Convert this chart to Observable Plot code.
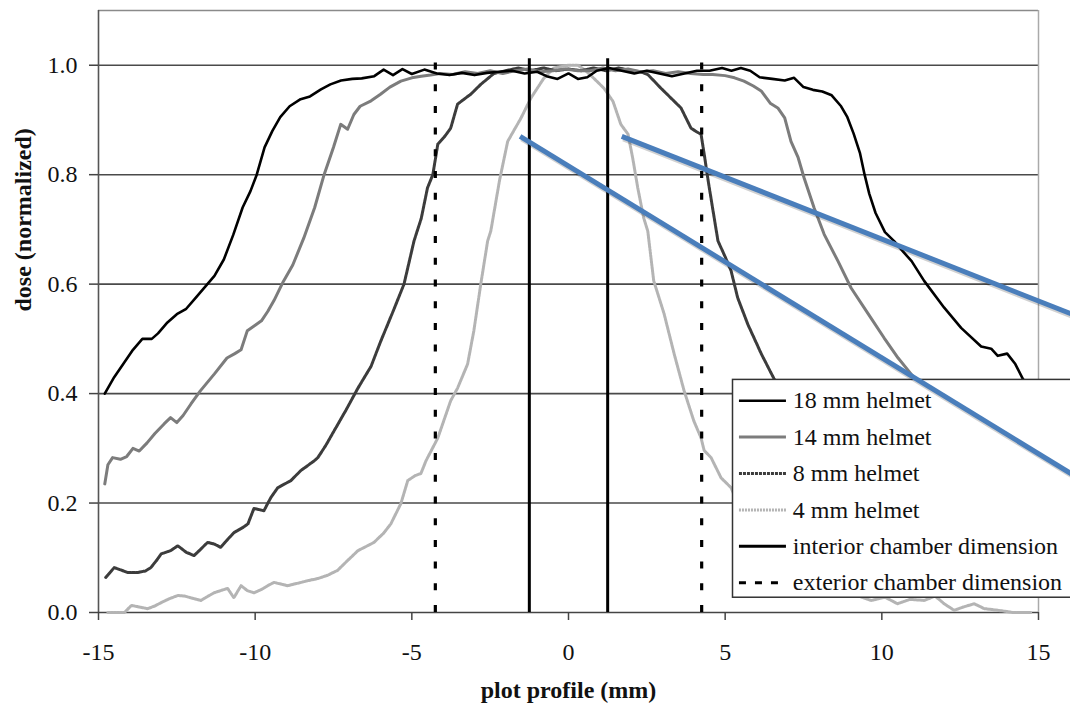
<!DOCTYPE html>
<html><head><meta charset="utf-8">
<script src="https://cdn.jsdelivr.net/npm/d3@7"></script>
<script src="https://cdn.jsdelivr.net/npm/@observablehq/plot@0.6"></script>
<style>html,body{margin:0;padding:0;background:#fff;overflow:hidden}
svg text{font-family:"Liberation Serif","Times New Roman",serif !important;}</style>
</head><body><div id="chart"></div>
<script>
// ---- data ----
const xTicks = [-15, -10, -5, 0, 5, 10, 15];
const yTicks = [0, 0.2, 0.4, 0.6, 0.8, 1.0];
const gridValues = [0.2, 0.4, 0.6, 0.8, 1.0];

const helmet18 = [[-14.8,0.40],[-14.5,0.43],[-14.2,0.455],[-13.9,0.48],[-13.6,0.50],[-13.3,0.50],[-13.1,0.51],[-12.8,0.53],[-12.5,0.545],[-12.2,0.555],[-11.9,0.575],[-11.6,0.595],[-11.3,0.615],[-11.0,0.645],[-10.7,0.69],[-10.4,0.74],[-10.15,0.77],[-9.95,0.80],[-9.7,0.85],[-9.45,0.88],[-9.2,0.905],[-8.9,0.925],[-8.55,0.938],[-8.25,0.943],[-7.9,0.956],[-7.6,0.965],[-7.26,0.972],[-6.9,0.975],[-6.6,0.976],[-6.2,0.98],[-5.9,0.992],[-5.6,0.982],[-5.3,0.993],[-5.0,0.984],[-4.6,0.992],[-4.2,0.985],[-3.8,0.982],[-3.4,0.986],[-3.0,0.982],[-2.6,0.986],[-2.2,0.988],[-1.8,0.99],[-1.4,0.985],[-1.0,0.988],[-0.7,0.98],[-0.35,0.975],[0.0,0.985],[0.3,0.975],[0.6,0.978],[0.9,0.99],[1.3,0.995],[1.7,0.99],[2.1,0.985],[2.5,0.99],[2.9,0.985],[3.3,0.98],[3.7,0.985],[4.1,0.99],[4.5,0.99],[4.9,0.995],[5.2,0.99],[5.5,0.995],[5.8,0.99],[6.1,0.978],[6.5,0.975],[6.9,0.972],[7.2,0.977],[7.5,0.96],[7.8,0.955],[8.1,0.952],[8.4,0.945],[8.7,0.925],[8.9,0.905],[9.1,0.875],[9.3,0.84],[9.45,0.80],[9.6,0.765],[9.8,0.73],[10.1,0.695],[10.4,0.678],[10.7,0.658],[10.95,0.642],[11.35,0.606],[11.99,0.557],[12.53,0.52],[13.17,0.486],[13.49,0.482],[13.7,0.469],[14.0,0.473],[14.26,0.454],[14.5,0.427],[14.8,0.40]];

const helmet14 = [[-14.8,0.235],[-14.7,0.27],[-14.55,0.283],[-14.3,0.28],[-14.1,0.285],[-13.9,0.30],[-13.7,0.295],[-13.45,0.31],[-13.2,0.327],[-12.9,0.345],[-12.7,0.356],[-12.5,0.347],[-12.3,0.36],[-12.05,0.381],[-11.75,0.405],[-11.3,0.436],[-10.9,0.465],[-10.65,0.473],[-10.45,0.48],[-10.25,0.515],[-10.0,0.525],[-9.8,0.533],[-9.6,0.55],[-9.4,0.57],[-9.1,0.605],[-8.8,0.635],[-8.45,0.684],[-8.1,0.74],[-7.8,0.80],[-7.5,0.85],[-7.27,0.892],[-7.05,0.883],[-6.85,0.91],[-6.65,0.925],[-6.3,0.935],[-6.0,0.947],[-5.7,0.96],[-5.35,0.971],[-5.0,0.977],[-4.7,0.98],[-4.4,0.982],[-4.1,0.985],[-3.7,0.983],[-3.3,0.988],[-2.9,0.985],[-2.5,0.99],[-2.1,0.985],[-1.7,0.99],[-1.3,0.993],[-0.9,0.988],[-0.5,0.99],[-0.1,0.993],[0.3,0.99],[0.7,0.99],[1.1,0.995],[1.5,0.99],[1.9,0.993],[2.3,0.988],[2.7,0.99],[3.1,0.985],[3.5,0.988],[3.9,0.985],[4.3,0.983],[4.6,0.983],[5.0,0.981],[5.3,0.977],[5.6,0.971],[5.9,0.962],[6.15,0.953],[6.45,0.93],[6.68,0.922],[6.9,0.904],[7.1,0.861],[7.33,0.831],[7.52,0.794],[7.84,0.739],[8.16,0.691],[8.6,0.642],[9.02,0.593],[9.56,0.546],[10.07,0.502],[10.52,0.465],[10.93,0.436],[11.3,0.41],[11.75,0.385],[12.3,0.36],[12.9,0.345],[13.5,0.31],[14.0,0.295],[14.5,0.28],[14.8,0.24]];

const helmet8 = [[-14.77,0.064],[-14.5,0.082],[-14.3,0.078],[-14.07,0.073],[-13.75,0.073],[-13.5,0.076],[-13.33,0.082],[-13.15,0.095],[-13.0,0.107],[-12.7,0.113],[-12.47,0.122],[-12.2,0.11],[-11.95,0.104],[-11.75,0.115],[-11.52,0.128],[-11.3,0.125],[-11.1,0.119],[-10.9,0.132],[-10.68,0.146],[-10.4,0.155],[-10.23,0.162],[-10.04,0.19],[-9.72,0.186],[-9.5,0.21],[-9.28,0.228],[-8.86,0.241],[-8.55,0.259],[-8.12,0.277],[-8.0,0.283],[-7.75,0.305],[-7.48,0.332],[-7.1,0.37],[-6.72,0.41],[-6.3,0.45],[-5.99,0.496],[-5.6,0.55],[-5.25,0.60],[-4.93,0.679],[-4.7,0.72],[-4.5,0.776],[-4.33,0.80],[-4.17,0.856],[-3.95,0.87],[-3.76,0.885],[-3.54,0.929],[-3.12,0.947],[-2.8,0.965],[-2.38,0.985],[-2.0,0.99],[-1.6,0.995],[-1.2,0.99],[-0.8,0.995],[-0.4,0.99],[0.0,0.993],[0.4,0.99],[0.8,0.995],[1.2,0.99],[1.6,0.995],[2.0,0.99],[2.3,0.988],[2.53,0.983],[2.75,0.97],[2.95,0.958],[3.27,0.94],[3.59,0.922],[3.91,0.885],[4.1,0.878],[4.23,0.874],[4.33,0.838],[4.46,0.788],[4.65,0.721],[4.77,0.679],[5.0,0.65],[5.19,0.624],[5.4,0.575],[5.72,0.527],[6.15,0.473],[6.56,0.427],[7.0,0.38],[7.5,0.33],[8.0,0.283],[8.5,0.26],[9.0,0.24],[9.5,0.21],[10.0,0.19],[10.5,0.155],[11.0,0.125],[11.5,0.128],[12.0,0.104],[12.5,0.12],[13.0,0.107],[13.5,0.078],[14.0,0.073],[14.5,0.08],[14.8,0.065]];

const helmet4 = [[-14.7,0.0],[-14.17,0.0],[-13.95,0.013],[-13.7,0.01],[-13.43,0.007],[-13.2,0.012],[-13.0,0.018],[-12.75,0.025],[-12.47,0.031],[-12.25,0.03],[-12.06,0.027],[-11.73,0.022],[-11.5,0.03],[-11.31,0.036],[-11.1,0.04],[-10.88,0.044],[-10.68,0.027],[-10.45,0.049],[-10.25,0.04],[-10.04,0.036],[-9.8,0.042],[-9.6,0.049],[-9.4,0.055],[-8.97,0.049],[-8.6,0.054],[-8.33,0.058],[-8.0,0.062],[-7.69,0.068],[-7.37,0.077],[-7.05,0.095],[-6.72,0.113],[-6.21,0.128],[-5.9,0.145],[-5.67,0.162],[-5.35,0.199],[-5.13,0.241],[-4.9,0.25],[-4.71,0.254],[-4.55,0.277],[-4.17,0.319],[-3.76,0.387],[-3.54,0.41],[-3.22,0.454],[-3.02,0.515],[-2.8,0.60],[-2.58,0.679],[-2.48,0.697],[-2.2,0.79],[-1.94,0.861],[-1.52,0.903],[-1.2,0.94],[-0.79,0.976],[-0.47,0.995],[0.0,1.0],[0.3,1.0],[0.55,0.99],[0.81,0.976],[1.13,0.958],[1.42,0.934],[1.67,0.892],[1.9,0.874],[2.05,0.83],[2.21,0.776],[2.4,0.721],[2.53,0.697],[2.72,0.606],[3.05,0.546],[3.37,0.473],[3.69,0.405],[4.0,0.35],[4.23,0.319],[4.33,0.296],[4.55,0.283],[4.87,0.246],[5.19,0.228],[5.6,0.17],[6.0,0.14],[6.5,0.12],[7.0,0.095],[7.5,0.075],[8.0,0.06],[8.5,0.05],[9.0,0.035],[9.66,0.022],[10.1,0.028],[10.5,0.016],[10.9,0.024],[11.35,0.022],[11.7,0.03],[11.99,0.016],[12.31,0.004],[12.6,0.01],[12.95,0.016],[13.27,0.007],[13.71,0.004],[14.2,0.0],[14.77,0.0]];

const interiorChamber = [-1.25, 1.25];
const exteriorChamber = [-4.25, 4.25];
const chamberTop = 1.012;

// annotation callout lines (data units)
const callouts = [
  {x1: 1.70, y1: 0.870, x2: 17, y2: 0.524},
  {x1: -1.545, y1: 0.870, x2: 17, y2: 0.220}
];

const seriesNames = ["18 mm helmet", "14 mm helmet", "8 mm helmet", "4 mm helmet"];
const seriesData = [helmet18, helmet14, helmet8, helmet4];
const legendLabels = [...seriesNames, "interior chamber dimension", "exterior chamber dimension"];

// ---- styles ----
const styles = [
  {stroke: "#000", strokeWidth: 2.6, dash: null},
  {stroke: "#7c7c7c", strokeWidth: 3, dash: null},
  {stroke: "#3c3c3c", strokeWidth: 3, dash: "3,1"},
  {stroke: "#b4b4b4", strokeWidth: 3, dash: "2,1"},
  {stroke: "#000", strokeWidth: 3, dash: null},
  {stroke: "#000", strokeWidth: 3, dash: "7,9"}
];

const rows = seriesData.flatMap((s, i) => s.map(([x, y]) => ({series: seriesNames[i], x, y})));
const font = "Liberation Serif";

// legend layout (data-space anchor)
const legX0 = 5.25, legX1 = 17, legTop = 0.425, legBottom = 0.027;
const legRow0 = 0.387, legStep = 0.0665;
const legendItems = legendLabels.map((label, i) => ({label, i, y: legRow0 - i * legStep}));

const lineMarks = seriesNames.map((name, i) => Plot.line(rows.filter(d => d.series === name), {
  x: "x", y: "y", stroke: styles[i].stroke, strokeWidth: styles[i].strokeWidth,
  strokeDasharray: styles[i].dash || undefined, strokeLinejoin: "round"
}));

const legendLineMarks = legendItems.map((d, i) => Plot.link([d], {
  x1: 5.44, x2: 6.94, y1: "y", y2: "y",
  stroke: styles[i].stroke, strokeWidth: styles[i].strokeWidth,
  strokeDasharray: styles[i].dash || undefined
}));

const chart = Plot.plot({
  width: 1070,
  height: 706,
  marginLeft: 98,
  marginRight: 32,
  marginTop: 10,
  marginBottom: 94,
  style: {fontFamily: font, fontSize: "24px", background: "#fff", color: "#111"},
  x: {domain: [-15, 15], label: null},
  y: {domain: [0, 1.1], label: null},
  marks: [
    Plot.ruleY(gridValues, {stroke: "#4a4a4a", strokeWidth: 1.6}),
    Plot.ruleY([1.1], {stroke: "#8a8a8a", strokeWidth: 1.5}),
    Plot.ruleX([15], {y1: 0, y2: 1.1, stroke: "#aaa", strokeWidth: 1.5}),
    Plot.ruleX([-15], {y1: 0, y2: 1.1, stroke: "#555", strokeWidth: 1.6}),
    Plot.ruleY([0], {stroke: "#444", strokeWidth: 1.6}),
    Plot.axisX({ticks: xTicks, tickSize: 8, tickPadding: 22, tickFormat: d => String(d), fontSize: 24, fontFamily: font, stroke: "#444", strokeWidth: 1.5, label: null}),
    Plot.axisY({ticks: yTicks, tickSize: 9, tickPadding: 12, tickFormat: d => d.toFixed(1), fontSize: 24, fontFamily: font, stroke: "#444", strokeWidth: 1.5, label: null}),
    ...lineMarks.slice().reverse(),
    Plot.ruleX(interiorChamber, {y1: 0, y2: chamberTop, stroke: "#000", strokeWidth: 3}),
    Plot.ruleX(exteriorChamber, {y1: 0, y2: 1.005, stroke: "#000", strokeWidth: 3.2, strokeDasharray: "7,14.7"}),
    // legend
    Plot.rect([0], {x1: legX0, x2: legX1, y1: legBottom, y2: legTop, fill: "#fff", stroke: "#333", strokeWidth: 1.5}),
    ...legendLineMarks,
    Plot.text(legendItems, {x: 7.16, y: "y", text: "label", textAnchor: "start", lineAnchor: "middle", fontSize: 24, fontFamily: font, fill: "#111"}),
    // callouts with soft shadow
    Plot.link(callouts, {x1: "x1", y1: "y1", x2: "x2", y2: "y2", stroke: "#000", strokeOpacity: 0.18, strokeWidth: 5, dx: 1.5, dy: 2.5}),
    Plot.link(callouts, {x1: "x1", y1: "y1", x2: "x2", y2: "y2", stroke: "#4a7ebb", strokeWidth: 5}),
    // axis titles
    Plot.text(["dose (normalized)"], {frameAnchor: "left", dx: -75, rotate: -90, text: d => d, fontWeight: "bold", fontSize: 24, fontFamily: font, lineAnchor: "middle", fill: "#111"}),
    Plot.text(["plot profile (mm)"], {frameAnchor: "bottom", dy: 78, text: d => d, fontWeight: "bold", fontSize: 24, fontFamily: font, lineAnchor: "middle", fill: "#111"})
  ]
});
chart.style.fontFamily = '"Liberation Serif", "Times New Roman", serif';
document.getElementById("chart").appendChild(chart);
</script>
</body></html>
